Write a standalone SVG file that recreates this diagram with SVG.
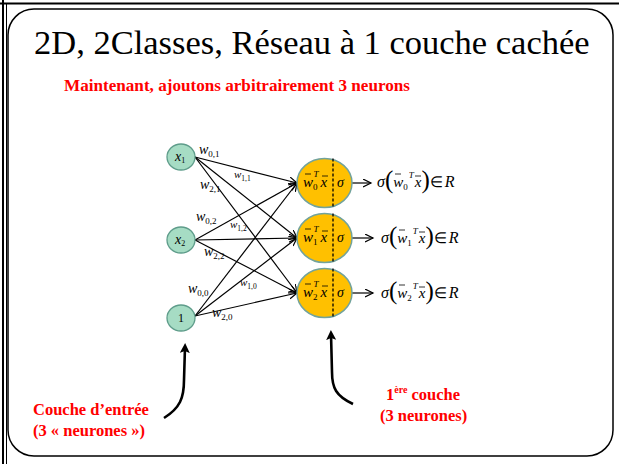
<svg xmlns="http://www.w3.org/2000/svg" width="619" height="464" viewBox="0 0 619 464">
  <style>
    .title { font-size: 34.5px; fill: #000; }
    .red { fill: #ff0000; font-weight: bold; font-size: 16.5px; }
    .it { font-style: italic; }
    .w { font-style: italic; font-size: 14px; }
    .ws { font-size: 9px; }
    .wsm { font-style: italic; font-size: 11px; }
    .wssm { font-size: 7.5px; }
    .inp { fill: #a6dcc4; stroke: #5e9c8a; stroke-width: 1.3; }
    .hid { fill: #ffc000; stroke: #72a39c; stroke-width: 1.5; }
    .edge { stroke: #000; stroke-width: 1.2; fill: none; marker-end: url(#open); }
    .vec { stroke: #000; stroke-width: 0.8; }
    .big { stroke: #000; stroke-width: 2.6; fill: none; marker-end: url(#solid); }
  </style>
  <defs>
    <marker id="open" markerWidth="10" markerHeight="10" refX="8" refY="4" orient="auto" markerUnits="userSpaceOnUse">
      <path d="M0,0 L8,4 L0,8" fill="none" stroke="#000" stroke-width="1.2"/>
    </marker>
    <marker id="solid" markerWidth="12" markerHeight="12" refX="6" refY="5" orient="auto" markerUnits="userSpaceOnUse">
      <path d="M0,0 L10,5 L0,10 L2,5 Z" fill="#000"/>
    </marker>
  </defs>

  <rect width="619" height="464" fill="#fff"/>
  <!-- page frame -->
  <line x1="0" y1="3.5" x2="619" y2="3.5" stroke="#000" stroke-width="2"/>
  <line x1="3" y1="0" x2="3" y2="464" stroke="#000" stroke-width="2"/>
  <line x1="6.5" y1="4" x2="6.5" y2="464" stroke="#000" stroke-width="1"/>
  <rect x="8" y="9" width="605" height="447" rx="26" ry="26" fill="none" stroke="#000" stroke-width="1.5"/>

  <text font-family="Liberation Serif, serif" class="title" x="34" y="54">2D, 2Classes, Réseau à 1 couche cachée</text>
  <text font-family="Liberation Serif, serif" class="red" x="64" y="91" textLength="346" lengthAdjust="spacingAndGlyphs">Maintenant, ajoutons arbitrairement 3 neurons</text>

  <!-- connectors -->
  <g id="connectors">
    <line class="edge" x1="195" y1="157" x2="297" y2="183"/>
    <line class="edge" x1="195" y1="157" x2="297" y2="238"/>
    <line class="edge" x1="195" y1="157" x2="297" y2="293"/>
    <line class="edge" x1="195" y1="240" x2="297" y2="183"/>
    <line class="edge" x1="195" y1="240" x2="297" y2="238"/>
    <line class="edge" x1="195" y1="240" x2="297" y2="293"/>
    <line class="edge" x1="195" y1="316" x2="297" y2="183"/>
    <line class="edge" x1="195" y1="316" x2="297" y2="238"/>
    <line class="edge" x1="195" y1="316" x2="297" y2="293"/>
    <line class="edge" x1="352" y1="183" x2="371" y2="183"/>
    <line class="edge" x1="352" y1="238" x2="373" y2="238"/>
    <line class="edge" x1="352" y1="293" x2="373" y2="293"/>
    <path class="big" d="M164,418 C180,408 184,398 184,380 L185,347"/>
    <path class="big" d="M353,404 C336,396 332,388 332,372 L331,334"/>
  </g>

  <!-- weight labels -->
  <g id="weights">
    <text font-family="Liberation Serif, serif" x="199" y="154"><tspan class="w">w</tspan><tspan class="ws" dy="3">0,1</tspan></text>
    <text font-family="Liberation Serif, serif" x="234" y="178"><tspan class="wsm">w</tspan><tspan class="wssm" dy="2.5">1,1</tspan></text>
    <text font-family="Liberation Serif, serif" x="200" y="189"><tspan class="w">w</tspan><tspan class="ws" dy="3">2,1</tspan></text>
    <text font-family="Liberation Serif, serif" x="196" y="221"><tspan class="w">w</tspan><tspan class="ws" dy="3">0,2</tspan></text>
    <text font-family="Liberation Serif, serif" x="230" y="228"><tspan class="wsm">w</tspan><tspan class="wssm" dy="2.5">1,2</tspan></text>
    <text font-family="Liberation Serif, serif" x="204" y="256"><tspan class="w">w</tspan><tspan class="ws" dy="3">2,2</tspan></text>
    <text font-family="Liberation Serif, serif" x="188" y="293"><tspan class="w">w</tspan><tspan class="ws" dy="3">0,0</tspan></text>
    <text font-family="Liberation Serif, serif" x="240" y="286"><tspan class="wsm">w</tspan><tspan class="wssm" dy="2.5">1,0</tspan></text>
    <text font-family="Liberation Serif, serif" x="212" y="317"><tspan class="w">w</tspan><tspan class="ws" dy="3">2,0</tspan></text>
  </g>

  <!-- input layer -->
  <g id="x1">
    <ellipse class="inp" cx="181" cy="157" rx="14" ry="13"/>
    <text font-family="Liberation Serif, serif" x="175" y="161"><tspan class="it" font-size="14">x</tspan><tspan font-size="8" dy="2">1</tspan></text>
  </g>
  <g id="x2">
    <ellipse class="inp" cx="181" cy="240" rx="14" ry="13"/>
    <text font-family="Liberation Serif, serif" x="175" y="244"><tspan class="it" font-size="14">x</tspan><tspan font-size="8" dy="2">2</tspan></text>
  </g>
  <g id="bias">
    <ellipse class="inp" cx="181" cy="318" rx="14" ry="13"/>
    <text font-family="Liberation Serif, serif" x="181" y="322" font-size="12" text-anchor="middle">1</text>
  </g>

  <!-- hidden layer -->
  <g id="h0">
    <ellipse class="hid" cx="324.5" cy="183" rx="27.5" ry="24.5"/>
    <line x1="333" y1="158.5" x2="333" y2="207.5" stroke="#000" stroke-width="1.3" stroke-dasharray="3,2"/>
    <text font-family="Liberation Serif, serif" x="303" y="187"><tspan class="it" font-size="15">w</tspan><tspan font-size="9" dy="3">0</tspan><tspan class="it" font-size="9" dx="-4" dy="-13">T</tspan><tspan class="it" font-size="15" dx="2" dy="10">x</tspan></text>
    <line class="vec" x1="305" y1="174" x2="311" y2="174"/>
    <line class="vec" x1="322" y1="176" x2="328" y2="176"/>
    <text font-family="Liberation Serif, serif" class="it" x="337" y="187" font-size="14">σ</text>
  </g>
  <g id="h1">
    <ellipse class="hid" cx="324.5" cy="238" rx="27.5" ry="24.5"/>
    <line x1="333" y1="213.5" x2="333" y2="262.5" stroke="#000" stroke-width="1.3" stroke-dasharray="3,2"/>
    <text font-family="Liberation Serif, serif" x="303" y="242"><tspan class="it" font-size="15">w</tspan><tspan font-size="9" dy="3">1</tspan><tspan class="it" font-size="9" dx="-4" dy="-13">T</tspan><tspan class="it" font-size="15" dx="2" dy="10">x</tspan></text>
    <line class="vec" x1="305" y1="229" x2="311" y2="229"/>
    <line class="vec" x1="322" y1="231" x2="328" y2="231"/>
    <text font-family="Liberation Serif, serif" class="it" x="337" y="242" font-size="14">σ</text>
  </g>
  <g id="h2">
    <ellipse class="hid" cx="324.5" cy="293" rx="27.5" ry="24.5"/>
    <line x1="333" y1="268.5" x2="333" y2="317.5" stroke="#000" stroke-width="1.3" stroke-dasharray="3,2"/>
    <text font-family="Liberation Serif, serif" x="303" y="297"><tspan class="it" font-size="15">w</tspan><tspan font-size="9" dy="3">2</tspan><tspan class="it" font-size="9" dx="-4" dy="-13">T</tspan><tspan class="it" font-size="15" dx="2" dy="10">x</tspan></text>
    <line class="vec" x1="305" y1="284" x2="311" y2="284"/>
    <line class="vec" x1="322" y1="286" x2="328" y2="286"/>
    <text font-family="Liberation Serif, serif" class="it" x="337" y="297" font-size="14">σ</text>
  </g>

  <!-- outputs -->
  <g id="out0">
    <text font-family="Liberation Serif, serif" x="377" y="187"><tspan class="it" font-size="16">σ</tspan><tspan font-size="25" dy="1">(</tspan><tspan class="it" font-size="15" dy="-1">w</tspan><tspan font-size="9" dy="3">0</tspan><tspan class="it" font-size="9" dx="1" dy="-12">T</tspan><tspan class="it" font-size="15" dx="1" dy="9">x</tspan><tspan font-size="25" dy="1">)</tspan><tspan font-size="15" dy="-1">∈</tspan><tspan class="it" font-size="16" dx="2">R</tspan></text>
    <line class="vec" x1="395" y1="174" x2="401" y2="174"/>
    <line class="vec" x1="415" y1="176" x2="421" y2="176"/>
  </g>
  <g id="out1">
    <text font-family="Liberation Serif, serif" x="381" y="243"><tspan class="it" font-size="16">σ</tspan><tspan font-size="25" dy="1">(</tspan><tspan class="it" font-size="15" dy="-1">w</tspan><tspan font-size="9" dy="3">1</tspan><tspan class="it" font-size="9" dx="1" dy="-12">T</tspan><tspan class="it" font-size="15" dx="1" dy="9">x</tspan><tspan font-size="25" dy="1">)</tspan><tspan font-size="15" dy="-1">∈</tspan><tspan class="it" font-size="16" dx="2">R</tspan></text>
    <line class="vec" x1="399" y1="230" x2="405" y2="230"/>
    <line class="vec" x1="419" y1="232" x2="425" y2="232"/>
  </g>
  <g id="out2">
    <text font-family="Liberation Serif, serif" x="381" y="298"><tspan class="it" font-size="16">σ</tspan><tspan font-size="25" dy="1">(</tspan><tspan class="it" font-size="15" dy="-1">w</tspan><tspan font-size="9" dy="3">2</tspan><tspan class="it" font-size="9" dx="1" dy="-12">T</tspan><tspan class="it" font-size="15" dx="1" dy="9">x</tspan><tspan font-size="25" dy="1">)</tspan><tspan font-size="15" dy="-1">∈</tspan><tspan class="it" font-size="16" dx="2">R</tspan></text>
    <line class="vec" x1="399" y1="285" x2="405" y2="285"/>
    <line class="vec" x1="419" y1="287" x2="425" y2="287"/>
  </g>

  <!-- layer captions -->
  <g id="caption-input" class="red">
    <text font-family="Liberation Serif, serif" x="33" y="415">Couche d’entrée</text>
    <text font-family="Liberation Serif, serif" x="33" y="436">(3 « neurones »)</text>
  </g>
  <g id="caption-hidden" class="red">
    <text font-family="Liberation Serif, serif" x="386" y="400">1<tspan font-size="10" dy="-7">ère</tspan><tspan dy="7"> couche</tspan></text>
    <text font-family="Liberation Serif, serif" x="380" y="421">(3 neurones)</text>
  </g>
</svg>
